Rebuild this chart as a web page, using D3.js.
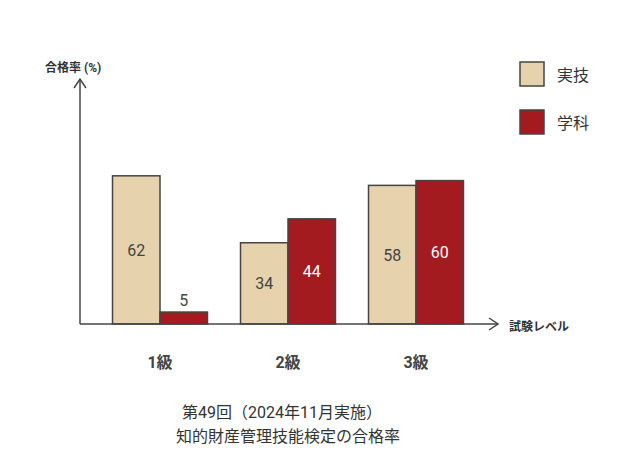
<!DOCTYPE html>
<html><head><meta charset="utf-8">
<script src="https://cdn.jsdelivr.net/npm/d3@7"></script>
<style>body{margin:0;background:#fff}text{font-family:Roboto,"Noto Sans CJK JP",sans-serif}</style>
</head><body><svg width="640" height="458"></svg>
<script>
const categories = ["1級","2級","3級"];
const seriesNames = ["実技","学科"];
const jitsugi = [62,34,58];
const gakka = [5,44,60];
const titleLines = ["第49回（2024年11月実施）","知的財産管理技能検定の合格率"];
const colors = ["#e6d3ad","#a31b1f"];

const svg = d3.select("svg");
const base = 324;
const x = d3.scaleBand().domain(categories).range([96,480]).paddingInner(0.258).paddingOuter(0.129);
const xs = d3.scaleBand().domain(seriesNames).range([0,x.bandwidth()]);
const y = d3.scaleLinear().domain([0,100]).range([base, base-239]);

const data = [];
categories.forEach((c,i)=>{data.push({c,s:"実技",v:jitsugi[i],k:0});data.push({c,s:"学科",v:gakka[i],k:1});});

svg.selectAll("rect.bar").data(data).join("rect")
 .attr("x",d=>x(d.c)+xs(d.s)).attr("width",xs.bandwidth())
 .attr("y",d=>y(d.v)).attr("height",d=>base-y(d.v))
 .attr("fill",d=>colors[d.k]).attr("stroke","#444").attr("stroke-width",1.5);

svg.selectAll("text.val").data(data).join("text")
 .attr("x",d=>x(d.c)+xs(d.s)+xs.bandwidth()/2)
 .attr("y",d=>d.v<15? y(d.v)-6 : (y(d.v)+base)/2+6)
 .attr("text-anchor","middle").attr("font-size",16)
 .attr("fill",d=>d.v>=15&&d.k===1?"#fff":"#444").text(d=>d.v);

const g = svg.append("g").attr("stroke","#444").attr("stroke-width",1.5).attr("fill","none");
g.append("line").attr("x1",80).attr("y1",base).attr("x2",80).attr("y2",79);
g.append("polyline").attr("points","74,88 80,79 86,88");
g.append("line").attr("x1",80).attr("y1",base).attr("x2",497).attr("y2",base);
g.append("polyline").attr("points","489,318 498,324 489,330");

svg.append("text").attr("x",45).attr("y",72).attr("font-size",12).attr("font-weight","bold").attr("fill","#333").text("合格率 (%)");
svg.append("text").attr("x",509).attr("y",331).attr("font-size",12).attr("font-weight","bold").attr("fill","#333").text("試験レベル");

svg.selectAll("text.cat").data(categories).join("text")
 .attr("x",d=>x(d)+x.bandwidth()/2).attr("y",368).attr("text-anchor","middle")
 .attr("font-size",16).attr("font-weight","bold").attr("fill","#444").text(d=>d);

seriesNames.forEach((s,i)=>{
 svg.append("rect").attr("x",520).attr("y",62+i*48).attr("width",24).attr("height",24)
   .attr("fill",colors[i]).attr("stroke","#444").attr("stroke-width",1.5);
 svg.append("text").attr("x",557).attr("y",81+i*48).attr("font-size",16).attr("fill","#333").text(s);
});

svg.selectAll("text.title").data(titleLines).join("text")
 .attr("x",(d,i)=>i?288:282).attr("y",(d,i)=>418+i*24).attr("text-anchor","middle")
 .attr("font-size",16).attr("fill","#333").text(d=>d);
</script></body></html>
